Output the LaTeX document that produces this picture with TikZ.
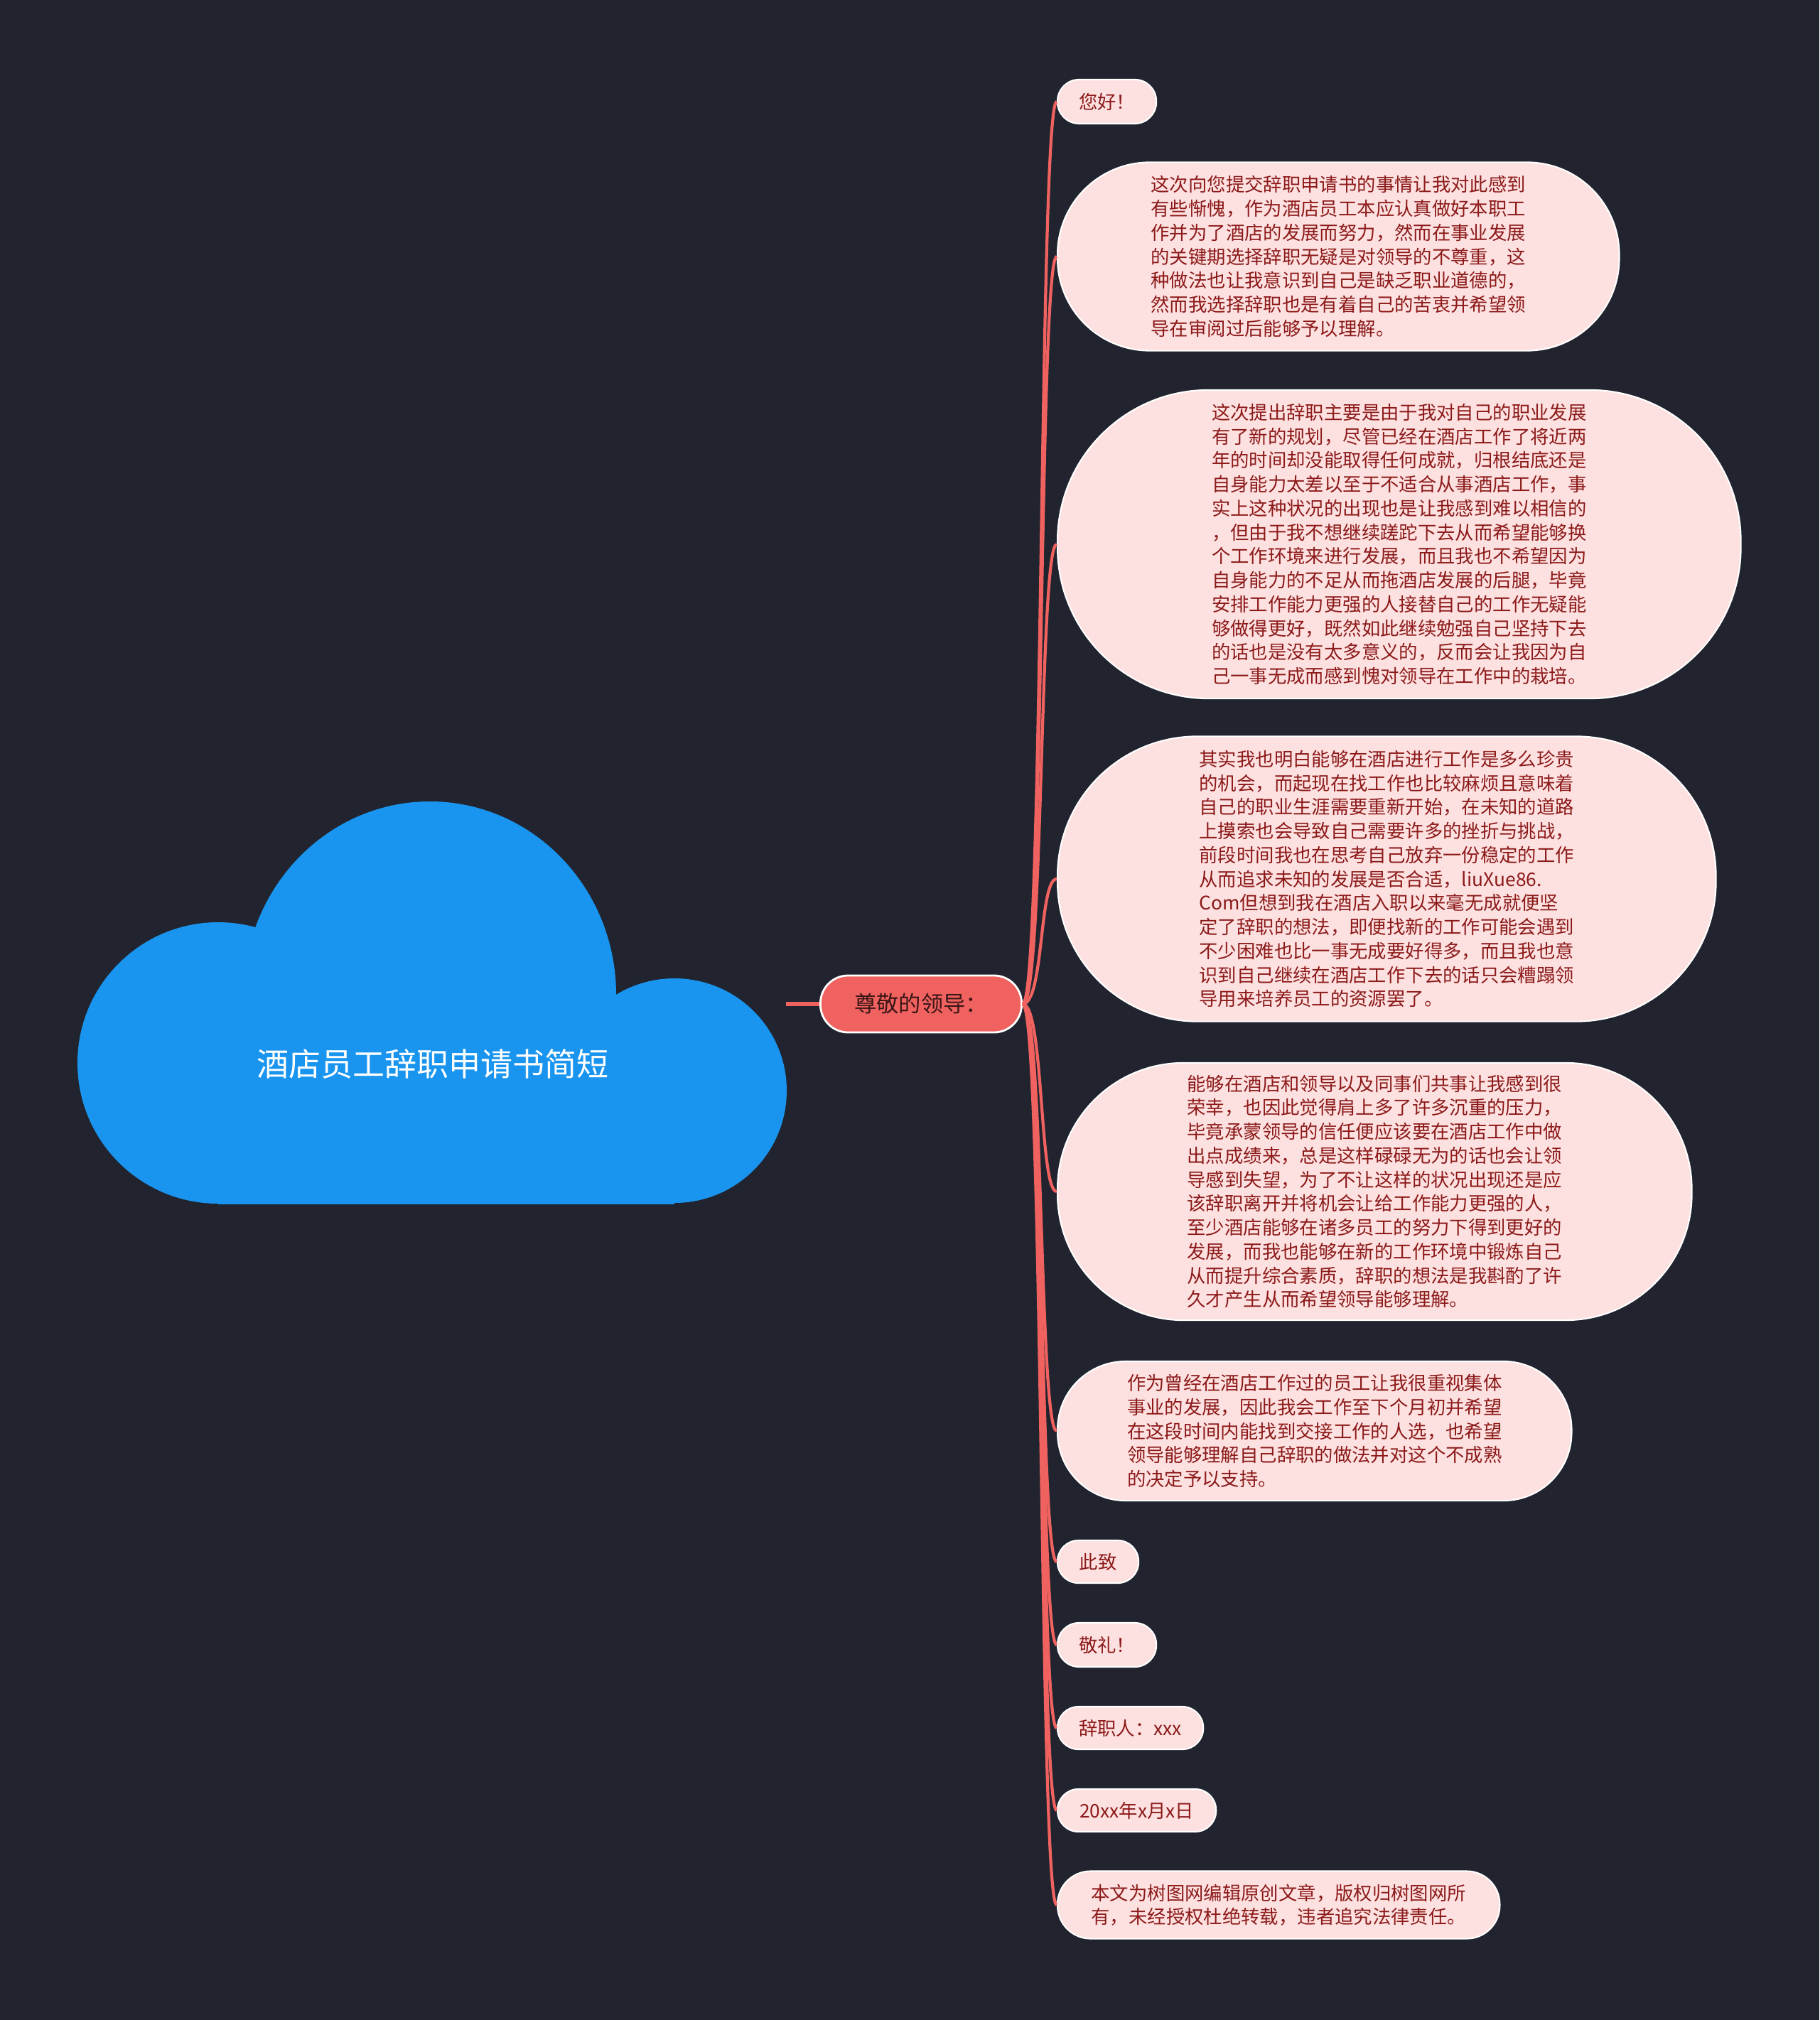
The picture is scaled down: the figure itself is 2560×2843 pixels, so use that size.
\documentclass[tikz,border=0pt]{standalone}
\usepackage{fontspec}
\setmainfont{Noto Sans CJK SC}
\definecolor{NightBg}{HTML}{21242F}
\definecolor{CloudBlue}{HTML}{1A95EF}
\definecolor{BranchRed}{HTML}{F0625F}
\definecolor{LeafPink}{HTML}{FDE1E0}
\definecolor{LeafText}{HTML}{8C1A1A}
\definecolor{MainText}{HTML}{3B1616}

\begin{document}
\begin{tikzpicture}[x=0.01cm,y=-0.01cm,
  leafbox/.style={draw=white,line width=0.6pt,fill=LeafPink,text=LeafText,
    font={\fontsize{7.5pt}{9.6pt}\selectfont},align=left,inner sep=0pt},
  leaf/.style 2 args={leafbox,minimum width=#1,minimum height=#2,rounded corners=0.49*#2},
  branch/.style={BranchRed,line width=1.2pt}]
\useasboundingbox (0,0) rectangle (2560,2843);
\fill[NightBg] (0,0) rectangle (2560,2843);
% cloud
\fill[CloudBlue] (307,1496) circle[radius=198];
\fill[CloudBlue] (605,1400) ellipse[x radius=262,y radius=272];
\fill[CloudBlue] (949,1535) circle[radius=158];
\fill[CloudBlue] (307,1400) rectangle (949,1695);
\node[text=white,font={\fontsize{12.8pt}{14pt}\selectfont}] (root) at (609,1497) {酒店员工辞职申请书简短};
\coordinate (cloudedge) at (1106,1413);
% main branch
\node[draw=white,line width=0.8pt,fill=BranchRed,text=MainText,font={\fontsize{8.9pt}{10pt}\selectfont},
      minimum width=2.83cm,minimum height=0.80cm,rounded corners=0.39cm,inner sep=0pt] (main) at (1296,1413) {尊敬的领导：};
\draw[BranchRed,line width=1.7pt] (cloudedge) -- (main.west);
% leaves
\node[leaf={1.39cm}{0.62cm},anchor=west] (hello) at (1487,143) {您好！};
\node[leaf={7.90cm}{2.65cm},anchor=west] (p1) at (1487,361) {这次向您提交辞职申请书的事情让我对此感到\\
有些惭愧，作为酒店员工本应认真做好本职工\\
作并为了酒店的发展而努力，然而在事业发展\\
的关键期选择辞职无疑是对领导的不尊重，这\\
种做法也让我意识到自己是缺乏职业道德的，\\
然而我选择辞职也是有着自己的苦衷并希望领\\
导在审阅过后能够予以理解。};
\node[leaf={9.61cm}{4.34cm},anchor=west] (p2) at (1487,766) {这次提出辞职主要是由于我对自己的职业发展\\
有了新的规划，尽管已经在酒店工作了将近两\\
年的时间却没能取得任何成就，归根结底还是\\
自身能力太差以至于不适合从事酒店工作，事\\
实上这种状况的出现也是让我感到难以相信的\\
，但由于我不想继续蹉跎下去从而希望能够换\\
个工作环境来进行发展，而且我也不希望因为\\
自身能力的不足从而拖酒店发展的后腿，毕竟\\
安排工作能力更强的人接替自己的工作无疑能\\
够做得更好，既然如此继续勉强自己坚持下去\\
的话也是没有太多意义的，反而会让我因为自\\
己一事无成而感到愧对领导在工作中的栽培。};
\node[leaf={9.26cm}{4.01cm},anchor=west] (p3) at (1487,1237) {其实我也明白能够在酒店进行工作是多么珍贵\\
的机会，而起现在找工作也比较麻烦且意味着\\
自己的职业生涯需要重新开始，在未知的道路\\
上摸索也会导致自己需要许多的挫折与挑战，\\
前段时间我也在思考自己放弃一份稳定的工作\\
从而追求未知的发展是否合适，liuXue86.\\
Com但想到我在酒店入职以来毫无成就便坚\\
定了辞职的想法，即便找新的工作可能会遇到\\
不少困难也比一事无成要好得多，而且我也意\\
识到自己继续在酒店工作下去的话只会糟蹋领\\
导用来培养员工的资源罢了。};
\node[leaf={8.92cm}{3.62cm},anchor=west] (p4) at (1487,1677) {能够在酒店和领导以及同事们共事让我感到很\\
荣幸，也因此觉得肩上多了许多沉重的压力，\\
毕竟承蒙领导的信任便应该要在酒店工作中做\\
出点成绩来，总是这样碌碌无为的话也会让领\\
导感到失望，为了不让这样的状况出现还是应\\
该辞职离开并将机会让给工作能力更强的人，\\
至少酒店能够在诸多员工的努力下得到更好的\\
发展，而我也能够在新的工作环境中锻炼自己\\
从而提升综合素质，辞职的想法是我斟酌了许\\
久才产生从而希望领导能够理解。};
\node[leaf={7.23cm}{1.96cm},anchor=west] (p5) at (1487,2014) {作为曾经在酒店工作过的员工让我很重视集体\\
事业的发展，因此我会工作至下个月初并希望\\
在这段时间内能找到交接工作的人选，也希望\\
领导能够理解自己辞职的做法并对这个不成熟\\
的决定予以支持。};
\node[leaf={1.14cm}{0.60cm},anchor=west] (cizhi) at (1487,2198) {此致};
\node[leaf={1.39cm}{0.62cm},anchor=west] (jingli) at (1487,2315) {敬礼！};
\node[leaf={2.05cm}{0.60cm},anchor=west] (signer) at (1487,2432) {辞职人：xxx};
\node[leaf={2.23cm}{0.60cm},anchor=west] (date) at (1487,2548) {20xx年x月x日};
\node[leaf={6.22cm}{0.95cm},anchor=west] (note) at (1487,2681) {本文为树图网编辑原创文章，版权归树图网所\\
有，未经授权杜绝转载，违者追究法律责任。};
% branches
\foreach \leafname in {hello,p1,p2,p3,p4,p5,cizhi,jingli,signer,date,note}
  \draw[branch] (main.east) .. controls +(30,0) and +(-25,0) .. (\leafname.west);
\end{tikzpicture}
\end{document}
